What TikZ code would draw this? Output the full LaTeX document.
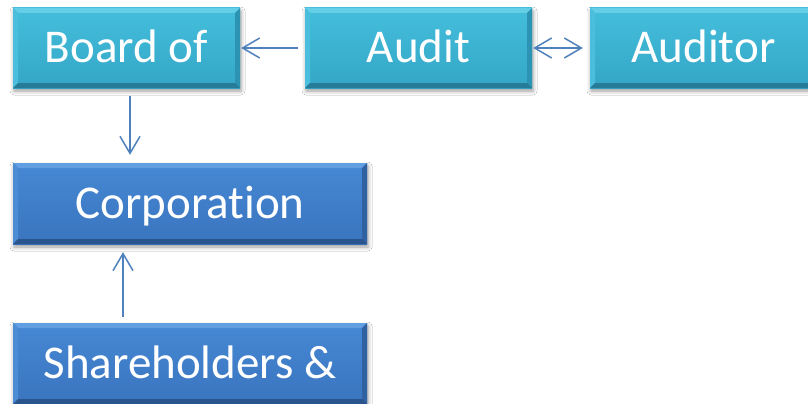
\documentclass[tikz,border=0pt]{standalone}
\usepackage{fontspec}
\setmainfont{Carlito}[Ligatures=NoCommon]
\usetikzlibrary{arrows.meta,shadows.blur}

% face, top/left highlight, right shade, bottom shade
\definecolor{cyantop}{RGB}{68,190,220}
\definecolor{cyanbot}{RGB}{52,166,198}
\definecolor{cyanhi}{RGB}{100,206,230}
\definecolor{cyanleft}{RGB}{74,190,220}
\definecolor{cyanright}{RGB}{44,148,178}
\definecolor{cyandark}{RGB}{38,124,152}
\definecolor{bluetop}{RGB}{70,136,212}
\definecolor{bluebot}{RGB}{58,116,190}
\definecolor{bluehi}{RGB}{98,158,226}
\definecolor{blueleft}{RGB}{76,140,212}
\definecolor{blueright}{RGB}{48,98,162}
\definecolor{bluedark}{RGB}{42,84,142}
\definecolor{linkblue}{RGB}{79,129,189}

\tikzset{
  tile/.style n args={6}{
    draw=none, inner sep=0pt, text=white,
    font=\fontsize{47}{50}\selectfont,
    text height=30pt, text depth=0pt,
    top color=#1, bottom color=#2,
    blur shadow={shadow xshift=1pt, shadow yshift=-3pt,
                 shadow blur radius=4pt, shadow opacity=40},
    path picture={
      \fill[#3] (path picture bounding box.north west)
        -- (path picture bounding box.north east)
        -- ([xshift=-5pt,yshift=-5pt]path picture bounding box.north east)
        -- ([xshift=5pt,yshift=-5pt]path picture bounding box.north west) -- cycle;
      \fill[#4] (path picture bounding box.north west)
        -- ([xshift=5pt,yshift=-5pt]path picture bounding box.north west)
        -- ([xshift=5pt,yshift=5pt]path picture bounding box.south west)
        -- (path picture bounding box.south west) -- cycle;
      \fill[#5] (path picture bounding box.north east)
        -- ([xshift=-5pt,yshift=-5pt]path picture bounding box.north east)
        -- ([xshift=-5pt,yshift=5pt]path picture bounding box.south east)
        -- (path picture bounding box.south east) -- cycle;
      \fill[#6] (path picture bounding box.south west)
        -- ([xshift=5pt,yshift=5pt]path picture bounding box.south west)
        -- ([xshift=-5pt,yshift=5pt]path picture bounding box.south east)
        -- (path picture bounding box.south east) -- cycle;
    }
  },
  cyantile/.style={tile={cyantop}{cyanbot}{cyanhi}{cyanleft}{cyanright}{cyandark},
    minimum width=227pt, minimum height=80pt},
  bluetile/.style={tile={bluetop}{bluebot}{bluehi}{blueleft}{blueright}{bluedark},
    minimum width=354pt, minimum height=81pt},
  link/.style={draw=linkblue, line width=1.5pt},
  tip/.style={-{Straight Barb[length=17pt,width=20pt,line width=1.5pt]}},
  bothtips/.style={{Straight Barb[length=17pt,width=20pt,line width=1.5pt]}-{Straight Barb[length=17pt,width=20pt,line width=1.5pt]}}
}

\begin{document}
\begin{tikzpicture}[x=1pt, y=-1pt]
  \useasboundingbox (0,0) rectangle (808,404);
  \fill[white] (0,0) rectangle (808,404);
  \clip (0,0) rectangle (808,404);

  % top row
  \node[cyantile] (board)   at (126.5,48) {Board of};
  \node[cyantile] (audit)   at (418.5,48) {Audit};
  \node[cyantile] (auditor) at (703.5,48) {Auditor};

  % left column
  \node[bluetile] (corp)  at (190,203.5) {Corporation};
  \node[bluetile] (share) at (190,363.5) {Shareholders \&};

  % connectors
  \draw[link, tip, shorten <=7pt, shorten >=1pt] (audit.west) -- (board.east);
  \draw[link, bothtips, shorten <=1pt, shorten >=7pt] (audit.east) -- (auditor.west);

  \coordinate (boardout) at (130,96);
  \draw[link, tip, shorten >=8pt] (boardout) -- (boardout |- corp.north);

  \coordinate (sharetail) at (123,317);
  \draw[link, tip, shorten >=8pt] (sharetail) -- (sharetail |- corp.south);
\end{tikzpicture}
\end{document}
